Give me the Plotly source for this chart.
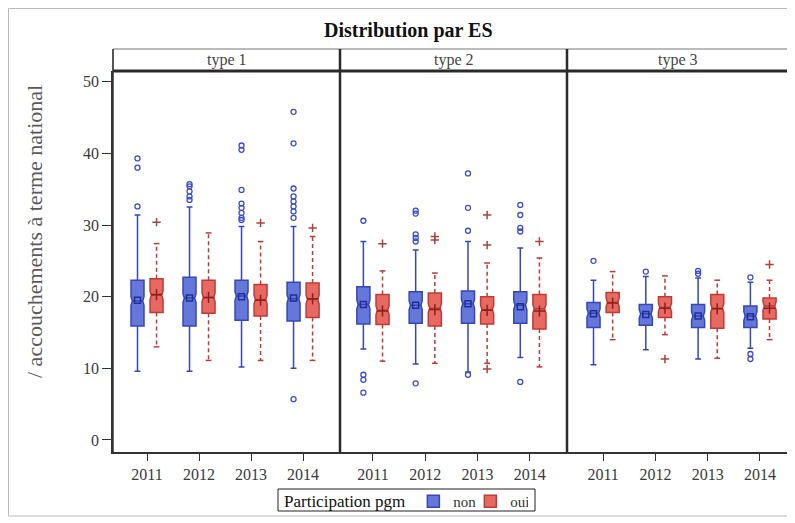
import plotly.graph_objects as go

# ---------------- data ----------------
years = ["2011", "2012", "2013", "2014"]
types = ["type 1", "type 2", "type 3"]
groups = ["non", "oui"]

# "non" group (blue) : one list per type, one value per year
non_q1 = [[15.9, 15.9, 16.7, 16.6], [16.2, 16.3, 16.3, 16.3], [15.7, 16.0, 15.7, 15.7]]
non_med = [[19.4, 19.8, 20.1, 19.7], [18.9, 18.8, 19.0, 18.8], [17.7, 17.6, 17.3, 17.3]]
non_q3 = [[22.3, 22.7, 22.3, 22.0], [21.4, 20.7, 20.8, 20.7], [19.2, 18.9, 18.9, 18.7]]
non_lo = [[9.6, 9.6, 10.2, 10.0], [12.7, 10.6, 9.5, 11.5], [10.5, 12.6, 11.3, 12.8]]
non_hi = [[31.4, 32.5, 29.8, 29.8], [27.7, 26.5, 27.7, 26.8], [22.3, 22.8, 22.6, 22.0]]
non_mean = [[19.5, 19.8, 20.0, 19.8], [18.9, 18.8, 19.0, 18.6], [17.6, 17.5, 17.3, 17.2]]
non_out = [
    [[32.6, 38.0, 39.3], [33.5, 34.0, 34.7, 35.4, 35.7],
     [30.7, 31.0, 31.7, 32.4, 33.0, 34.9, 40.5, 41.1],
     [5.7, 31.0, 31.9, 32.6, 33.3, 34.0, 35.1, 41.4, 45.8]],
    [[6.6, 8.4, 9.1, 30.6], [7.9, 27.7, 28.2, 28.7, 31.6, 32.0],
     [9.1, 29.2, 32.4, 37.2], [8.1, 29.1, 29.6, 31.4, 32.8]],
    [[25.0], [23.5], [23.2, 23.6], [11.3, 12.0, 22.7]],
]

# "oui" group (red)
oui_q1 = [[17.8, 17.7, 17.3, 17.1], [16.1, 15.9, 16.2, 15.5], [17.8, 17.1, 15.6, 16.9]]
oui_med = [[20.2, 19.9, 19.6, 19.6], [18.1, 18.4, 18.2, 18.3], [19.2, 18.5, 18.4, 18.7]]
oui_q3 = [[22.5, 22.3, 21.7, 21.9], [20.3, 20.5, 20.0, 20.3], [20.6, 20.0, 20.3, 19.8]]
oui_lo = [[13.0, 11.1, 11.1, 11.1], [11.0, 10.7, 10.7, 10.2], [14.0, 14.7, 11.4, 14.0]]
oui_hi = [[27.4, 28.9, 27.7, 28.4], [23.6, 23.3, 24.7, 25.4], [23.5, 22.9, 22.3, 22.3]]
oui_mean = [[20.3, 19.9, 19.5, 19.7], [18.0, 18.2, 18.1, 18.0], [19.1, 18.4, 18.3, 18.4]]
oui_out = [
    [[30.4], [], [30.3], [29.6]],
    [[27.4], [27.9, 28.4], [9.9, 27.2, 31.4], [27.7]],
    [[], [11.3], [], [24.5]],
]

y_ticks = [0, 10, 20, 30, 40, 50]

# ---------------- layout geometry ----------------
# the page body adds an 8px margin, so work in page pixels and shift
PAD = 8
W, H = 795 - PAD, 523 - PAD
L, R, T, B = 113, 788, 71, 452  # page pixel coordinates of the plot area


def fx(p):
    return (p - L) / (R - L)


def fy(p):
    return (B - p) / (B - T)


panel_px = [(113, 340), (340, 567), (567, 788)]
x_ranges = [[-0.654, 3.71], [-0.63, 3.71], [-0.69, 3.536]]
y_range = [-1.68, 51.5]

FONT = "Liberation Serif"
BLUE_FILL = "#6677da"
BLUE_LINE = "#3447bb"
RED_FILL = "#e66a62"
RED_LINE = "#c23a36"
OFF = 0.183
BW = 0.25

fig = go.Figure()

for k in range(3):
    xa = "x" if k == 0 else f"x{k + 1}"
    idx = list(range(len(years)))
    # ---- blue boxes
    pos_b = [i - OFF for i in idx]
    fig.add_trace(go.Box(
        x=pos_b, q1=non_q1[k], median=non_med[k], q3=non_q3[k],
        lowerfence=non_lo[k], upperfence=non_hi[k],
        notched=True, notchspan=[0.6] * 4, notchwidth=0.1,
        width=BW, whiskerwidth=0.45, boxpoints=False,
        fillcolor=BLUE_FILL, line=dict(color=BLUE_LINE, width=1.5),
        name="non", legendgroup="non", showlegend=(k == 0),
        xaxis=xa, yaxis="y", hoverinfo="skip"))
    # ---- red boxes (whiskers drawn separately, dashed)
    pos_r = [i + OFF for i in idx]
    fig.add_trace(go.Box(
        x=pos_r, q1=oui_q1[k], median=oui_med[k], q3=oui_q3[k],
        lowerfence=oui_q1[k], upperfence=oui_q3[k],
        notched=True, notchspan=[0.6] * 4, notchwidth=0.1,
        width=BW, whiskerwidth=0, boxpoints=False,
        fillcolor=RED_FILL, line=dict(color=RED_LINE, width=1.5),
        name="oui", legendgroup="oui", showlegend=(k == 0),
        xaxis=xa, yaxis="y", hoverinfo="skip"))
    # dashed red whiskers
    wx, wy, cx, cy = [], [], [], []
    for i in idx:
        p = pos_r[i]
        wx += [p, p, None, p, p, None]
        wy += [oui_q3[k][i], oui_hi[k][i], None, oui_q1[k][i], oui_lo[k][i], None]
        c = 0.055
        cx += [p - c, p + c, None, p - c, p + c, None]
        cy += [oui_hi[k][i], oui_hi[k][i], None, oui_lo[k][i], oui_lo[k][i], None]
    fig.add_trace(go.Scatter(x=wx, y=wy, mode="lines",
                             line=dict(color=RED_LINE, width=1.5, dash="4px,3px"),
                             showlegend=False, xaxis=xa, yaxis="y", hoverinfo="skip"))
    fig.add_trace(go.Scatter(x=cx, y=cy, mode="lines",
                             line=dict(color=RED_LINE, width=1.5),
                             showlegend=False, xaxis=xa, yaxis="y", hoverinfo="skip"))
    # means
    fig.add_trace(go.Scatter(x=pos_b, y=non_mean[k], mode="markers",
                             marker=dict(symbol="square-open", size=6, color="#1f2f9a",
                                         line=dict(color="#1f2f9a", width=1.5)),
                             showlegend=False, xaxis=xa, yaxis="y", hoverinfo="skip"))
    fig.add_trace(go.Scatter(x=pos_r, y=oui_mean[k], mode="markers",
                             marker=dict(symbol="cross-thin", size=8, color="#8e1f1c",
                                         line=dict(color="#8e1f1c", width=1.5)),
                             showlegend=False, xaxis=xa, yaxis="y", hoverinfo="skip"))
    # outliers
    ox, oy = [], []
    for i in idx:
        for v in non_out[k][i]:
            ox.append(pos_b[i])
            oy.append(v)
    fig.add_trace(go.Scatter(x=ox, y=oy, mode="markers",
                             marker=dict(symbol="circle-open", size=5, color="#3a4cd0",
                                         line=dict(color="#3a4cd0", width=1.3)),
                             showlegend=False, xaxis=xa, yaxis="y", hoverinfo="skip"))
    rx, ry = [], []
    for i in idx:
        for v in oui_out[k][i]:
            rx.append(pos_r[i])
            ry.append(v)
    fig.add_trace(go.Scatter(x=rx, y=ry, mode="markers",
                             marker=dict(symbol="cross-thin", size=6, color="#a8443c",
                                         line=dict(color="#a8443c", width=1.5)),
                             showlegend=False, xaxis=xa, yaxis="y", hoverinfo="skip"))

tickfont = dict(family=FONT, size=16, color="#3a3a3a")
layout_axes = {}
for k in range(3):
    name = "xaxis" if k == 0 else f"xaxis{k + 1}"
    x0p, x1p = panel_px[k]
    layout_axes[name] = dict(
        domain=[fx(x0p), fx(x1p)], range=x_ranges[k], anchor="y",
        tickvals=list(range(len(years))), ticktext=years,
        ticks="outside", ticklen=7, tickwidth=1, tickcolor="#333333",
        showline=True, linecolor="#333333", linewidth=1.5,
        showgrid=False, zeroline=False, tickfont=tickfont, fixedrange=True)

fig.update_layout(
    width=W, height=H,
    margin=dict(l=L - PAD, r=795 - R, t=T - PAD, b=523 - B, autoexpand=False),
    paper_bgcolor="white", plot_bgcolor="white",
    yaxis=dict(range=y_range, tickvals=y_ticks, ticks="outside", ticklen=9,
               tickcolor="#333333", showline=True, linecolor="#333333", linewidth=1.5,
               showgrid=False, zeroline=False, tickfont=tickfont, fixedrange=True),
    showlegend=True,
    legend=dict(orientation="h", x=fx(282), xanchor="left", y=fy(485), yanchor="top",
                borderwidth=0, bgcolor="rgba(0,0,0,0)",
                font=dict(family=FONT, size=15, color="#333333"),
                title=dict(text="Participation pgm", side="left",
                           font=dict(family=FONT, size=17, color="#111111")),
                itemwidth=30, entrywidth=12, entrywidthmode="pixels",
                tracegroupgap=0),
    **layout_axes,
)

shapes = []
# outer border
shapes.append(dict(type="rect", xref="paper", yref="paper",
                   x0=fx(8.5), x1=fx(788), y0=fy(516), y1=fy(8.5),
                   line=dict(color="#bbbbbb", width=1)))
# legend frame
shapes.append(dict(type="rect", xref="paper", yref="paper",
                   x0=fx(278), x1=fx(535), y0=fy(511), y1=fy(489),
                   line=dict(color="#222222", width=1)))
# header strip
shapes.append(dict(type="rect", xref="paper", yref="paper",
                   x0=0, x1=1, y0=1, y1=fy(49),
                   line=dict(color="#777777", width=1), fillcolor="white", layer="below"))
shapes.append(dict(type="line", xref="paper", yref="paper",
                   x0=0, x1=1, y0=fy(71), y1=fy(71),
                   line=dict(color="#2a2a2a", width=3)))
# panel separators
for xp in (340, 567):
    shapes.append(dict(type="line", xref="paper", yref="paper",
                       x0=fx(xp), x1=fx(xp), y0=0, y1=fy(49),
                       line=dict(color="#2a2a2a", width=2.5)))
shapes.append(dict(type="line", xref="paper", yref="paper",
                   x0=0, x1=0, y0=0, y1=fy(49), line=dict(color="#333333", width=1.5)))
shapes.append(dict(type="line", xref="paper", yref="paper",
                   x0=1, x1=1, y0=0, y1=fy(49), line=dict(color="#555555", width=1.5)))

annotations = []
annotations.append(dict(text="<b>Distribution par ES</b>", xref="paper", yref="paper",
                        x=fx(408), y=fy(31), xanchor="center", yanchor="middle",
                        showarrow=False, font=dict(family=FONT, size=20, color="#111111")))
annotations.append(dict(text="/ accouchements à terme national", xref="paper", yref="paper",
                        x=fx(35), y=fy(232), xanchor="center", yanchor="middle",
                        textangle=-90, showarrow=False,
                        font=dict(family=FONT, size=22, color="#5a5a5a")))
for k in range(3):
    x0p, x1p = panel_px[k]
    annotations.append(dict(text=types[k], xref="paper", yref="paper",
                            x=fx((x0p + x1p) / 2), y=fy(60), xanchor="center",
                            yanchor="middle", showarrow=False,
                            font=dict(family=FONT, size=16, color="#444444")))

fig.update_layout(shapes=shapes, annotations=annotations)
fig.write_html("out.html")
